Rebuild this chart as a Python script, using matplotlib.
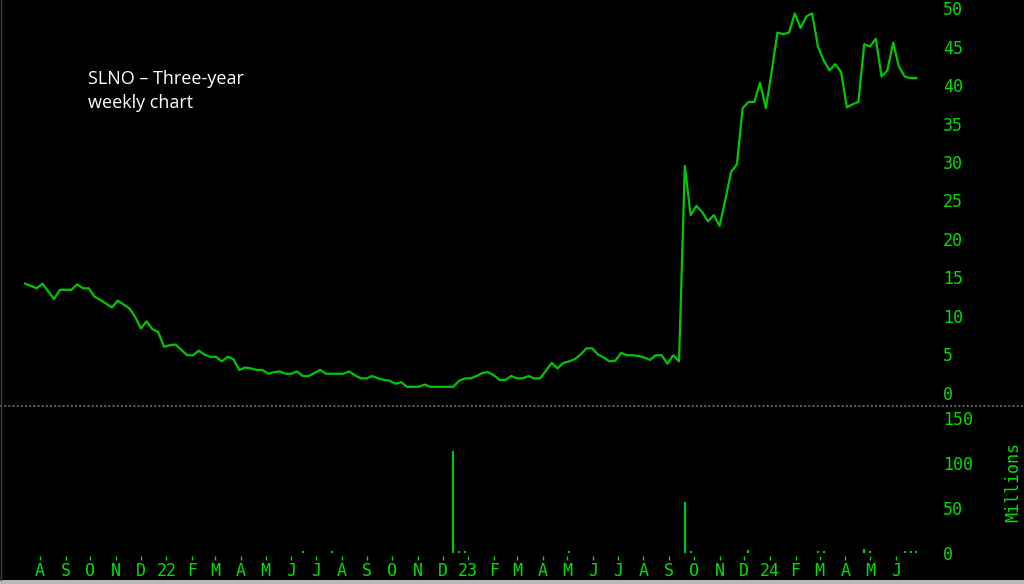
import numpy as np
import pandas as pd
import matplotlib
matplotlib.use("Agg")
import matplotlib.pyplot as plt
import matplotlib.dates as mdates

# weekly closes (mid-Jul 2021 .. late Jun 2024)
start_date = "2021-07-14"
close = [
    14.2, 13.9, 13.6, 14.2, 13.2, 12.2, 13.4, 13.4, 13.4, 14.1,
    13.6, 13.6, 12.5, 12.1, 11.6, 11.1, 12.0, 11.5, 11.0, 9.9,
    8.4, 9.3, 8.3, 7.9, 6.0, 6.2, 6.3, 5.6, 4.9, 4.9,
    5.5, 5.0, 4.7, 4.7, 4.1, 4.7, 4.4, 3.0, 3.3, 3.2,
    3.0, 3.0, 2.5, 2.7, 2.8, 2.5, 2.5, 2.8, 2.2, 2.2,
    2.6, 3.0, 2.5, 2.5, 2.5, 2.5, 2.8, 2.3, 1.9, 1.9,
    2.2, 1.9, 1.7, 1.6, 1.2, 1.4, 0.8, 0.8, 0.8, 1.1,
    0.8, 0.8, 0.8, 0.8, 0.8, 1.6, 1.9, 1.9, 2.2, 2.6,
    2.7, 2.3, 1.7, 1.7, 2.2, 1.9, 1.9, 2.2, 1.9, 1.9,
    2.9, 3.9, 3.2, 3.9, 4.1, 4.4, 5.0, 5.8, 5.8, 5.0,
    4.6, 4.1, 4.2, 5.2, 4.9, 4.9, 4.8, 4.6, 4.3, 4.9,
    4.9, 3.8, 4.9, 4.1, 29.5, 23.1, 24.3, 23.5, 22.3, 23.1,
    21.7, 25.1, 28.7, 29.7, 37.0, 37.8, 37.8, 40.3, 37.0, 41.7,
    46.8, 46.6, 46.8, 49.3, 47.4, 48.9, 49.3, 45.0, 43.2, 41.9,
    42.7, 41.7, 37.1, 37.5, 37.8, 45.3, 45.0, 46.0, 41.1, 41.9,
    45.5, 42.4, 41.1, 40.9, 40.9,
]

# weeks with visible volume (millions); everything else is too small to see
vol_week = [48, 53, 74, 75, 76, 94, 114, 115, 125, 137, 138, 145, 146, 152, 153, 154]
vol_mill = [2, 2, 113, 2, 2, 2, 57, 2, 3, 2, 2, 5, 2, 2, 2, 2]

price_ticks = [0, 5, 10, 15, 20, 25, 30, 35, 40, 45, 50]
vol_ticks = [0, 50, 100, 150]
title = "SLNO \u2013 Three-year\nweekly chart"

GREEN_LINE = "#00c800"
GREEN_TXT = "#00e000"
MONO = "DejaVu Sans Mono"

dates = pd.date_range(start_date, periods=len(close), freq="7D")

W, H = 1024, 584
fig = plt.figure(figsize=(W / 100, H / 100), dpi=100, facecolor="black")


def px_axes(x0, y0, x1, y1):
    # pixel box (top-left origin) -> figure axes
    return fig.add_axes([x0 / W, 1 - y1 / H, (x1 - x0) / W, (y1 - y0) / H])


ax = px_axes(0, 0, 935, 405)
axv = px_axes(0, 407, 935, 556)

aug1 = pd.Timestamp("2021-08-01")
px_per_day = 0.8267
xl = (aug1 - pd.Timedelta(days=40 / px_per_day),
      aug1 + pd.Timedelta(days=(935 - 40) / px_per_day))

for a in (ax, axv):
    a.set_facecolor("black")
    for s in a.spines.values():
        s.set_visible(False)
    a.set_xlim(mdates.date2num(xl[0]), mdates.date2num(xl[1]))
    a.yaxis.tick_right()
    a.tick_params(axis="y", length=0, pad=5.8, colors=GREEN_TXT, labelsize=12)

# price panel
ax.plot(dates, close, color=GREEN_LINE, lw=1.6, solid_joinstyle="round")
ax.set_ylim(-1.56, 51.04)
ax.set_yticks(price_ticks)
ax.set_yticklabels([str(t) for t in price_ticks], fontfamily=MONO, color=GREEN_TXT)
ax.set_xticks([])

# volume panel
vd = [dates[i] for i in vol_week]
axv.vlines(vd, 0, vol_mill, color=GREEN_LINE, lw=1.6)
axv.set_ylim(-3.3, 162.2)
axv.set_yticks(vol_ticks)
axv.set_yticklabels([str(t) for t in vol_ticks], fontfamily=MONO, color=GREEN_TXT)

months = pd.date_range("2021-08-01", "2024-06-01", freq="MS")
mlabels = [str(m.year)[2:] if m.month == 1 else m.strftime("%b")[0] for m in months]
axv.set_xticks(mdates.date2num(months))
axv.set_xticklabels(mlabels, fontfamily=MONO, fontsize=12, color=GREEN_TXT)
axv.tick_params(axis="x", direction="out", length=3, width=1, colors=GREEN_TXT, pad=1)

fig.text(1013 / W, 1 - 482 / H, "Millions", rotation=90, ha="center", va="center",
         fontfamily=MONO, fontsize=12, color=GREEN_TXT)

# panel separator, bottom strip, left edge
fig.add_artist(plt.Line2D([0, 1], [1 - 405.5 / H] * 2, color="#5a5a5a", lw=1.5,
                          ls=(0, (1, 1))))
fig.add_artist(plt.Rectangle((0, 0), 1, 4 / H, color="#b8b8b8", lw=0))
fig.add_artist(plt.Line2D([0.5 / W] * 2, [4 / H, 1], color="#404040", lw=1))

fig.text(88 / W, 1 - 70 / H, title, ha="left", va="top", color="white",
         fontfamily="Open Sans", fontsize=13, linespacing=1.45)

fig.savefig("out.png", dpi=100, facecolor="black")
